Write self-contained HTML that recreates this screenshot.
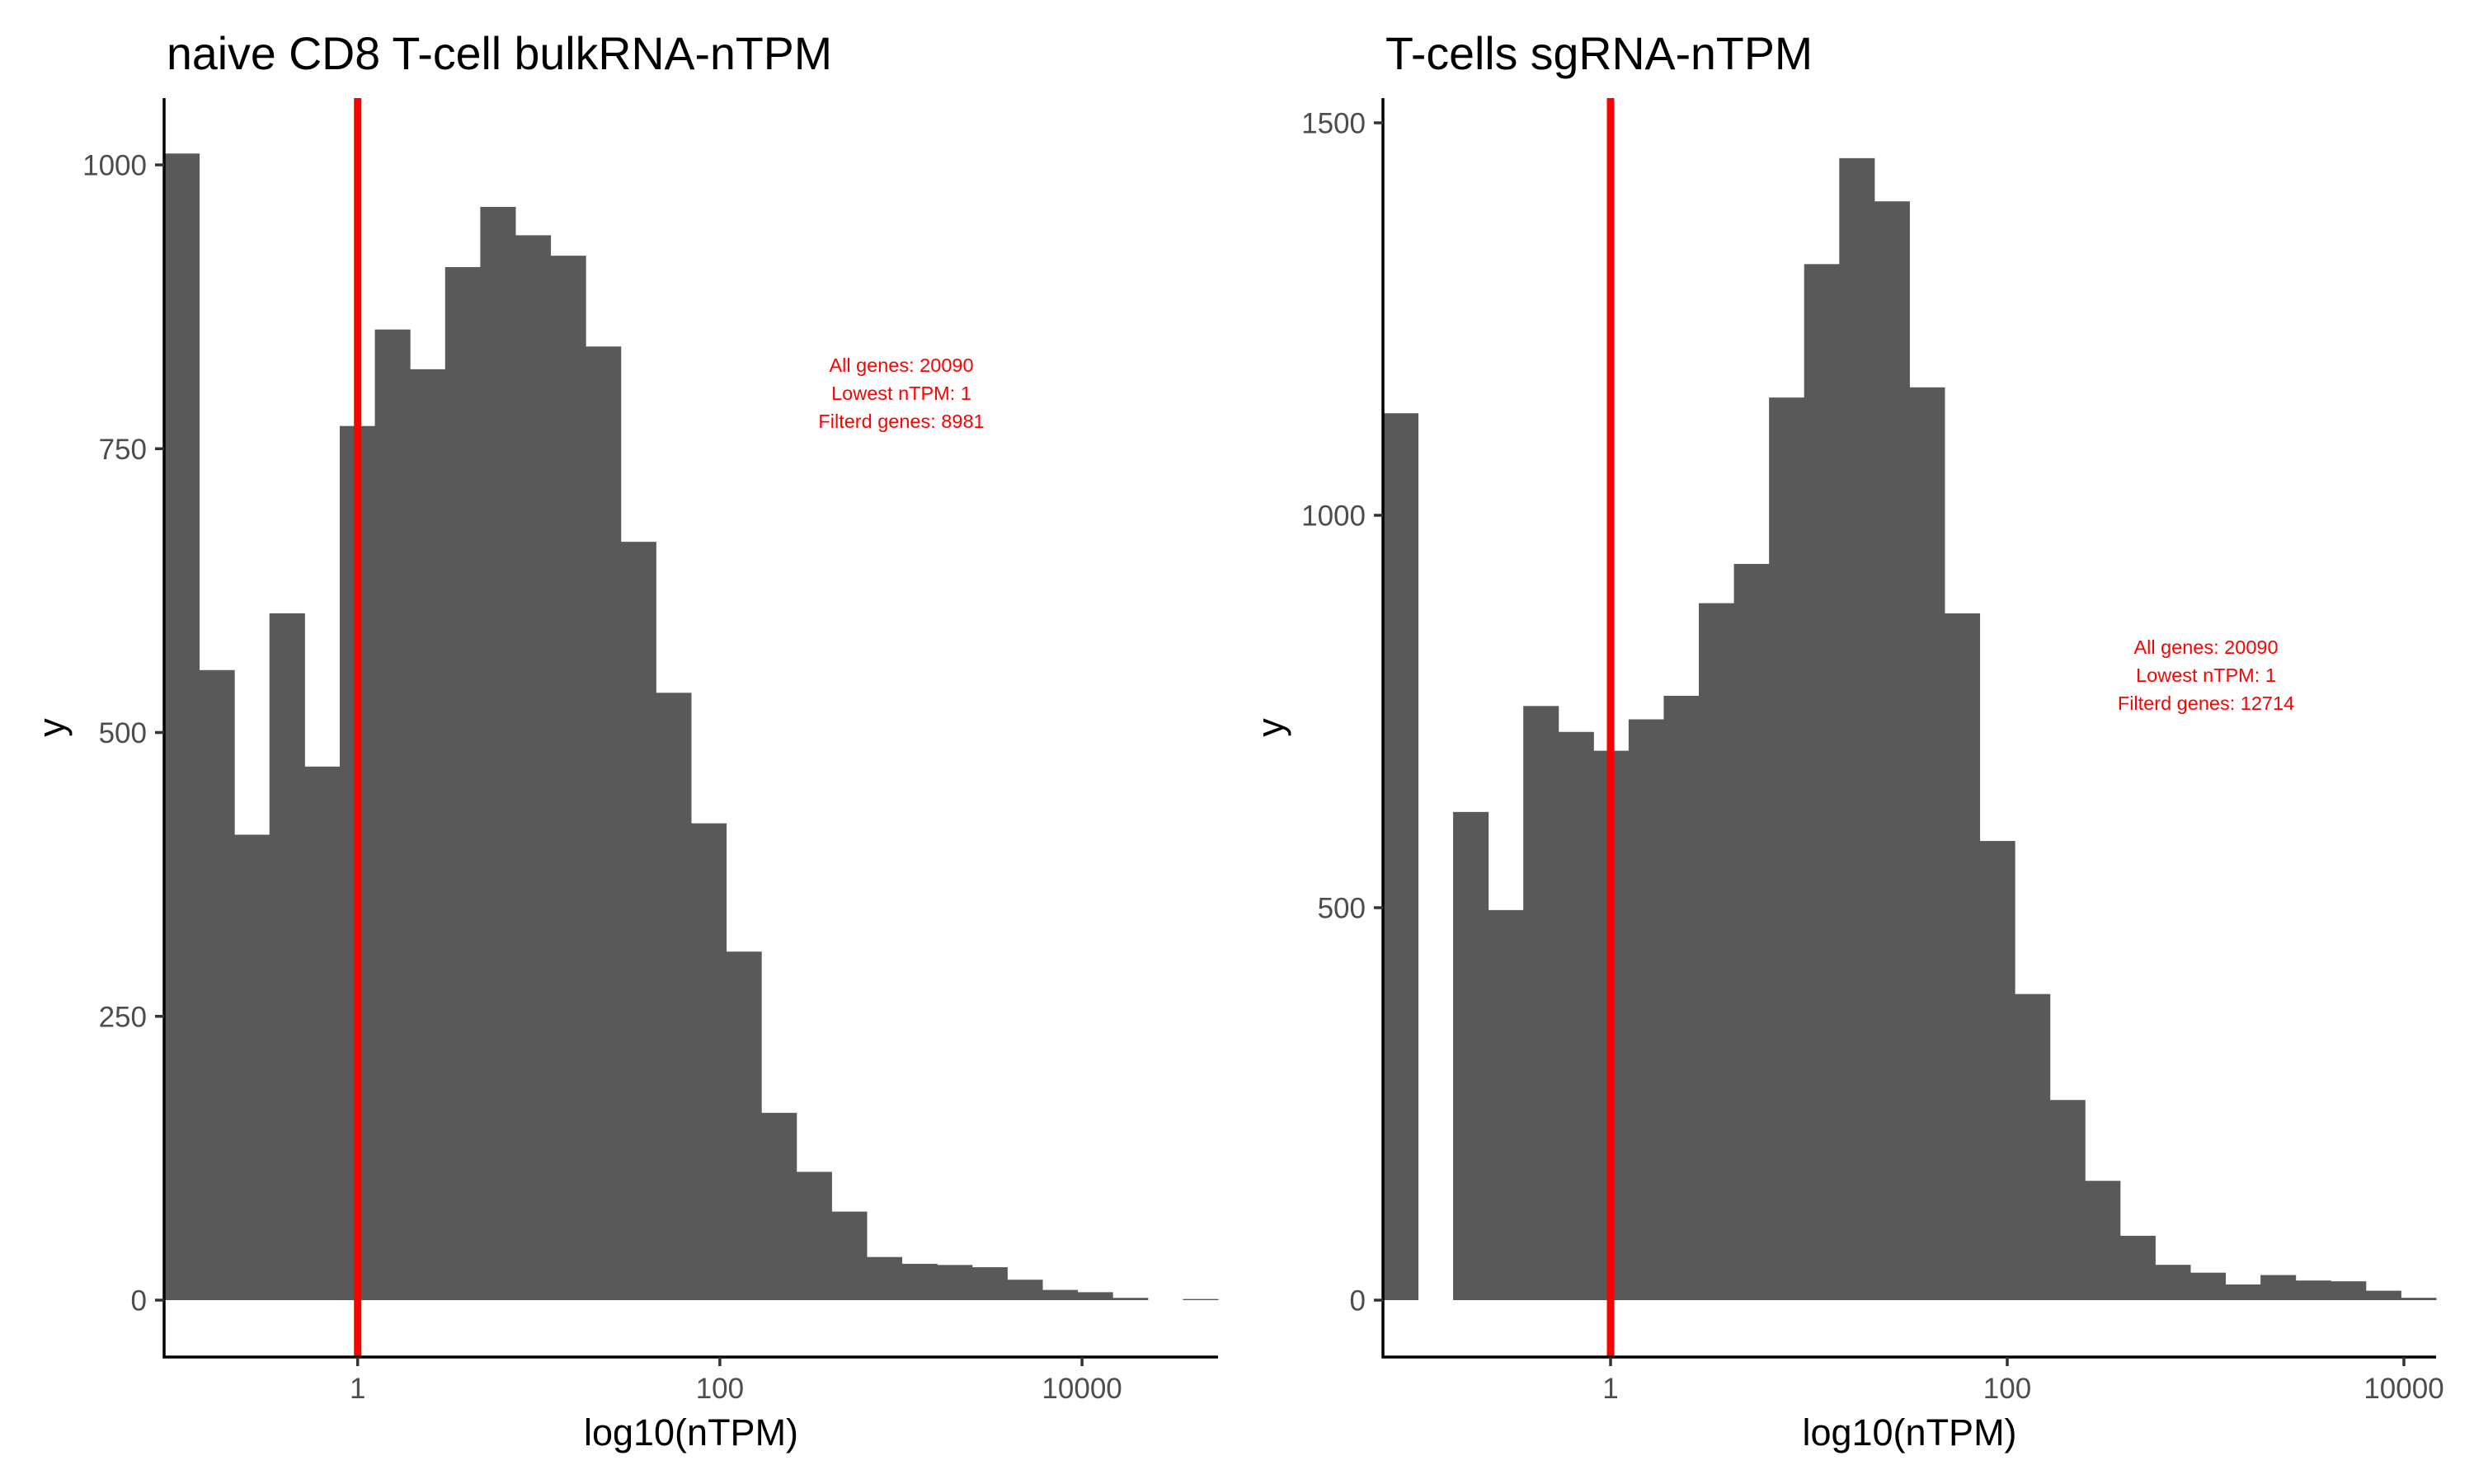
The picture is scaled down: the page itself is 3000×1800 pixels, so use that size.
<!DOCTYPE html>
<html><head><meta charset="utf-8"><style>
html,body{margin:0;padding:0;background:#fff;}
svg{display:block;font-family:"Liberation Sans",sans-serif;}
</style></head><body>
<svg id="c" width="3000" height="1800" viewBox="0 0 3000 1800" xmlns="http://www.w3.org/2000/svg"></svg>
<script>
// Left panel data
const leftCounts = [1010,555,410,605,470,770,855,820,910,963,938,920,840,668,535,420,307,165,113,78,38,32,31,29,18,9,7,2,0,1];
const leftBinStart = -1.069, leftBinWidth = 0.194;
const leftYTicks = [0,250,500,750,1000];
const xTickVals = [1,100,10000];
const xTickLabels = ["1","100","10000"];
const leftNote = ["All genes: 20090","Lowest nTPM: 1","Filterd genes: 8981"];
// Right panel data
const rightCounts = [1130,0,622,497,757,724,700,740,770,888,938,1150,1320,1455,1400,1163,875,585,390,255,152,82,45,35,20,32,25,24,12,3];
const rightBinStart = -1.148, rightBinWidth = 0.177;
const rightYTicks = [0,500,1000,1500];
const rightNote = ["All genes: 20090","Lowest nTPM: 1","Filterd genes: 12714"];
const cutoff = 1;

const svg = document.getElementById('c');
const NS = 'http://www.w3.org/2000/svg';
function mk(tag, attrs, parent){const e=document.createElementNS(NS,tag);for(const k in attrs)e.setAttribute(k,attrs[k]);(parent||svg).appendChild(e);return e;}

function panel(p){
  const g = mk('g',{});
  
  
  const xs = v => p.x1 + p.dec*v;
  const ys = v => p.y0 - v*p.yk;
  p.counts.forEach((c,i)=>{
    if(c<=0) return;
    const a = xs(p.bs + i*p.bw), b = xs(p.bs + (i+1)*p.bw);
    const r = mk('rect',{x:a,y:ys(c),width:b-a+0.5,height:Math.max(ys(0)-ys(c),1),fill:'#595959'},g);
    
    
  });
  const vl = mk('line',{x1:xs(Math.log10(cutoff)),x2:xs(Math.log10(cutoff)),y1:p.top,y2:p.bottom,stroke:'#ff0000','stroke-width':9},g);
  
  
  const ya = mk('line',{x1:p.ax,x2:p.ax,y1:p.top,y2:p.bottom+1.5,stroke:'#000','stroke-width':3.5},g);
  
  
  const xa = mk('line',{x1:p.ax-1.5,x2:p.right,y1:p.bottom,y2:p.bottom,stroke:'#000','stroke-width':3.5},g);
  
  
  p.yticks.forEach(t=>{
    mk('line',{x1:p.ax-11,x2:p.ax,y1:ys(t),y2:ys(t),stroke:'#333','stroke-width':3.5},g);
    const tx = mk('text',{x:p.ax-21,y:ys(t)+12.5,'text-anchor':'end','font-size':35,fill:'#4d4d4d'},g);
    tx.textContent = t;
    
    
  });
  xTickVals.forEach((t,i)=>{
    const x = xs(Math.log10(t));
    mk('line',{x1:x,x2:x,y1:p.bottom,y2:p.bottom+11,stroke:'#333','stroke-width':3.5},g);
    const tx = mk('text',{x:x,y:1696,'text-anchor':'middle','font-size':35,fill:'#4d4d4d'},g);
    tx.textContent = xTickLabels[i];
    
    
  });
  const ti = mk('text',{x:p.ax+3,y:84,'font-size':55.5,fill:'#000'},g);
  ti.textContent = p.title;
  
  
  const xt = mk('text',{x:(p.ax+p.right)/2,y:1753,'text-anchor':'middle','font-size':45,fill:'#000'},g);
  xt.textContent = 'log10(nTPM)';
  
  
  const cy=(p.top+p.bottom)/2;
  const yt = mk('text',{x:p.ylx,y:cy,'text-anchor':'middle','font-size':45,fill:'#000',transform:`rotate(-90 ${p.ylx} ${cy})`},g);
  yt.textContent = 'y';
  
  
  p.note.forEach((s,i)=>{
    const n = mk('text',{x:p.nx,y:p.ny+i*34,'text-anchor':'middle','font-size':23.5,fill:'#ff0000'},g);
    n.textContent = s;
    
    
  });
}
panel({name:'left-panel',counts:leftCounts,bs:leftBinStart,bw:leftBinWidth,x1:433.7,dec:219.6,y0:1577,yk:1.377,
  top:119,bottom:1646,ax:199,right:1477,yticks:leftYTicks,title:'naive CD8 T-cell bulkRNA-nTPM',ylx:78,
  note:leftNote,nx:1093,ny:451});
panel({name:'right-panel',counts:rightCounts,bs:rightBinStart,bw:rightBinWidth,x1:1953,dec:240.5,y0:1577,yk:0.952,
  top:119,bottom:1646,ax:1677,right:2954,yticks:rightYTicks,title:'T-cells sgRNA-nTPM',ylx:1556,
  note:rightNote,nx:2675,ny:793});
</script>
</body></html>
